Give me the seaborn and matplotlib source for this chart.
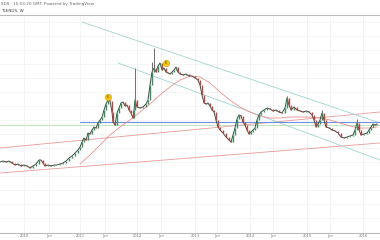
import numpy as np
import pandas as pd
import matplotlib
matplotlib.use("Agg")
import matplotlib.pyplot as plt
import seaborn as sns

# ---- data (decimal year, price) ----
px_x = [0,3,6,9,12,15,18,21,24,27,30,33,36,39,41,43,45,48,51,54,57,60,63,66,69,72,75,78,80,82,84,86,88,90,92,94,96,98,100,102,104,106,108,110,112,113,115,117,119,121,123,125,127,129,131,133,134,135,137,140,143,146,148,150,152,154,156,158,160,162,164,166,168,170,172,174,176,178,180,183,186,189,192,195,198,200,202,204,206,208,210,212,214,216,218,220,223,226,229,231,233,235,237,239,241,243,245,247,249,251,253,255,257,259,261,264,267,270,273,276,279,282,285,287,289,291,294,297,300,303,306,309,312,314,316,318,320,322,324,326,329,332,335,338,341,344,347,350,353,355,357,359,361,364,367,369,371,373,375,377]
px_y = [162,161,162,161,163,165,164,166,165,166,168,166,164,160,160,163,166,165,166,165,165,164,163,161,158,156,153,150,147,142,138,140,133,134,130,127,128,123,120,117,110,104,100,101,112,122,125,113,108,103,102,106,105,110,113,118,110,100,107,108,107,104,100,85,72,68,72,66,63,70,68,72,73,74,72,70,67,72,74,75,74,76,76,78,80,85,95,103,104,103,106,110,112,120,127,130,133,137,140,142,135,128,119,115,116,122,125,130,134,132,130,128,120,115,112,110,108,109,111,110,112,113,108,98,105,110,107,110,111,112,111,112,115,120,127,124,120,113,120,127,128,130,131,133,137,138,137,136,135,130,123,130,135,134,133,130,127,124,125,124]

def yr(x):
    return 2010 + (np.asarray(x, float) - 23) / 56.67

def pr(y):
    return (240 - np.asarray(y, float)) / 10.0

t = yr(px_x)
close = pr(px_y)

wick_x = [135, 154, 152, 287, 322, 357]
wick_y = [68, 48, 62, 96, 110, 119]

ma_x = [80,90,100,110,120,130,140,150,160,170,180,190,200,210,220,230,240,250,260,270,280,290,300,310,320,330,340,350,360,370,377]
ma_y = [164,155,145,135,127,120,112,104,95,87,80,76,77,83,92,100,107,112,116,118,118,117,117,117,118,120,123,126,128,128,127]

earn_x = [108, 166]
earn_y = [97, 63]

tick_pos = [24, 49, 80, 105, 137, 161, 195, 217, 250, 273, 307, 330, 363]
tick_lab = ["2010", "Jun", "2011", "Jun", "2012", "Jun", "2013", "Jun", "2014", "Jun", "2015", "Jun", "2016"]

# trend lines: (x0, y0, x1, y1) in pixel readings
teal_upper = (82, 22, 380, 123)
teal_lower = (118, 63, 380, 160)
red_upper = (0, 148, 380, 112)
red_lower = (0, 173, 380, 143)
blue_h = (80, 121.5, 380, 121.5)
green_h = (0, 125, 380, 125)

sns.set_theme(style="white")
plt.rcParams["font.family"] = ["DejaVu Sans"]

fig = plt.figure(figsize=(3.8, 2.4), dpi=100)
ax = fig.add_axes([0, 7 / 240, 1, 218 / 240])
ax.set_xlim(yr(0), yr(380))
ax.set_ylim(pr(233), pr(15))

# grid
for p in tick_pos:
    ax.axvline(yr(p), color="#f2f2f2", lw=0.6, zorder=0)
for g in np.arange(pr(218), pr(15), 1.4):
    ax.axhline(g, color="#f4f4f4", lw=0.6, zorder=0)

def seg(s, color, lw=0.6):
    x0, y0, x1, y1 = s
    d = pd.DataFrame({"x": yr([x0, x1]), "y": pr([y0, y1])})
    sns.lineplot(data=d, x="x", y="y", color=color, lw=lw, ax=ax, zorder=2)

seg(green_h, "#b9e0b0")
seg(red_upper, "#e99a9a")
seg(red_lower, "#e99a9a")
seg(teal_upper, "#9fd6cf")
seg(teal_lower, "#9fd6cf")
seg(blue_h, "#6d8fe0", lw=0.8)

ma = pd.DataFrame({"x": yr(ma_x), "y": pr(ma_y)})
sns.lineplot(data=ma, x="x", y="y", color="#ee8f8f", lw=0.6, ax=ax, zorder=3)

df = pd.DataFrame({"t": t, "close": close})
sns.lineplot(data=df, x="t", y="close", color="#3d4a42", lw=0.7, ax=ax, zorder=4)

opn = np.r_[close[0], close[:-1]]
up = close >= opn
ax.vlines(t[up], opn[up], close[up], color="#3a8f62", lw=1.0, zorder=5)
ax.vlines(t[~up], opn[~up], close[~up], color="#b8483f", lw=1.0, zorder=5)

wx = yr(wick_x)
wy = pr(wick_y)
base = np.interp(wx, t, close)
ax.vlines(wx, base, wy, color="#7a6a6a", lw=0.7, zorder=4)

ed = pd.DataFrame({"x": yr(earn_x), "y": pr(earn_y)})
sns.scatterplot(data=ed, x="x", y="y", s=22, color="#f4c20d", edgecolor="#c89b00",
                linewidth=0.3, ax=ax, zorder=6, legend=False)
for ex, ey in zip(ed["x"], ed["y"]):
    ax.text(ex, ey, "E", fontsize=2.4, ha="center", va="center", color="#444", zorder=7)

ax.set_xticks(yr(tick_pos))
ax.set_xticklabels(tick_lab, fontsize=2.6, color="#777")
ax.tick_params(axis="x", length=0, pad=1)
ax.set_yticks([])
ax.set_xlabel("")
ax.set_ylabel("")
for s in ["left", "right"]:
    ax.spines[s].set_visible(False)
ax.spines["top"].set_color("#bbbbbb")
ax.spines["bottom"].set_color("#bbbbbb")
ax.spines["top"].set_linewidth(0.8)
ax.spines["bottom"].set_linewidth(0.8)

fig.text(0.002, 1 - 3.5 / 240, "SDS · 15:03:20 GMT. Powered by TradingView",
         fontsize=3, color="#666", va="center", ha="left")
fig.text(0.002, 1 - 10.5 / 240, "TLENDS, W", fontsize=3, color="#444",
         va="center", ha="left")

fig.savefig("out.png", dpi=100)
